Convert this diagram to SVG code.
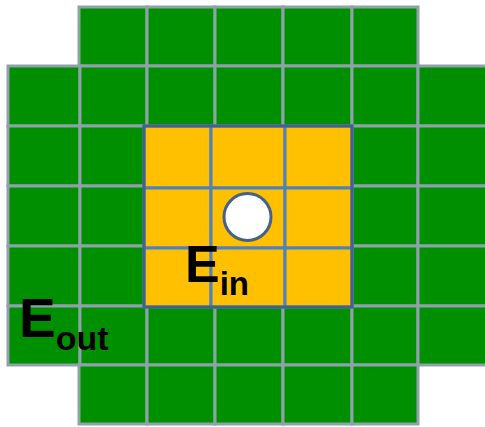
<svg xmlns="http://www.w3.org/2000/svg" width="485" height="427" viewBox="0 0 485 427">
<style>
.g{fill:#008f00;stroke:#8fa1aa;stroke-width:3}
.y{fill:#ffc000;stroke:#4f81bd;stroke-width:3}
.t{font-family:"Liberation Sans",Arial,sans-serif;font-weight:bold;fill:#000}
</style>
<rect x="0" y="0" width="485" height="427" fill="#fff"/>
<g id="outer">
<rect class="g" x="79" y="7" width="68" height="59"/>
<rect class="g" x="147" y="7" width="68" height="59"/>
<rect class="g" x="215" y="7" width="68" height="59"/>
<rect class="g" x="283" y="7" width="69" height="59"/>
<rect class="g" x="352" y="7" width="66" height="59"/>
<g id="rows">
<rect class="g" x="8" y="66" width="72" height="60"/><rect class="g" x="80" y="66" width="67" height="60"/><rect class="g" x="147" y="66" width="68" height="60"/><rect class="g" x="215" y="66" width="68" height="60"/><rect class="g" x="283" y="66" width="69" height="60"/><rect class="g" x="352" y="66" width="66" height="60"/><rect class="g" x="418" y="66" width="70" height="60"/>
<rect class="g" x="8" y="126" width="72" height="60"/><rect class="g" x="80" y="126" width="67" height="60"/><rect class="g" x="352" y="126" width="66" height="60"/><rect class="g" x="418" y="126" width="70" height="60"/>
<rect class="g" x="8" y="186" width="72" height="60"/><rect class="g" x="80" y="186" width="67" height="60"/><rect class="g" x="352" y="186" width="66" height="60"/><rect class="g" x="418" y="186" width="70" height="60"/>
<rect class="g" x="8" y="246" width="72" height="60"/><rect class="g" x="80" y="246" width="67" height="60"/><rect class="g" x="352" y="246" width="66" height="60"/><rect class="g" x="418" y="246" width="70" height="60"/>
<rect class="g" x="8" y="306" width="72" height="59"/><rect class="g" x="80" y="306" width="67" height="59"/><rect class="g" x="147" y="306" width="68" height="59"/><rect class="g" x="215" y="306" width="68" height="59"/><rect class="g" x="283" y="306" width="69" height="59"/><rect class="g" x="352" y="306" width="66" height="59"/><rect class="g" x="418" y="306" width="70" height="59"/>
</g>
<rect class="g" x="79" y="365" width="68" height="59"/>
<rect class="g" x="147" y="365" width="68" height="59"/>
<rect class="g" x="215" y="365" width="68" height="59"/>
<rect class="g" x="283" y="365" width="69" height="59"/>
<rect class="g" x="352" y="365" width="66" height="59"/>
</g>
<g id="inner">
<rect class="y" x="144" y="126" width="67" height="62"/><rect class="y" x="211" y="126" width="74" height="62"/><rect class="y" x="285" y="126" width="67" height="62"/>
<rect class="y" x="144" y="188" width="67" height="60"/><rect class="y" x="211" y="188" width="74" height="60"/><rect class="y" x="285" y="188" width="67" height="60"/>
<rect class="y" x="144" y="248" width="67" height="59"/><rect class="y" x="211" y="248" width="74" height="59"/><rect class="y" x="285" y="248" width="67" height="59"/>
<rect x="144" y="126" width="208" height="181" fill="none" stroke="#41618e" stroke-width="3"/>
</g>
<g id="source">
<circle cx="247.5" cy="217" r="23.5" fill="#fff" stroke="#44618a" stroke-width="3"/>
</g>
<g id="labels">
<text class="t" x="185" y="282" font-size="52">E<tspan font-size="33" dy="13">in</tspan></text>
<text class="t" x="19" y="337" font-size="55">E<tspan font-size="34" dy="13">out</tspan></text>
</g>
</svg>
